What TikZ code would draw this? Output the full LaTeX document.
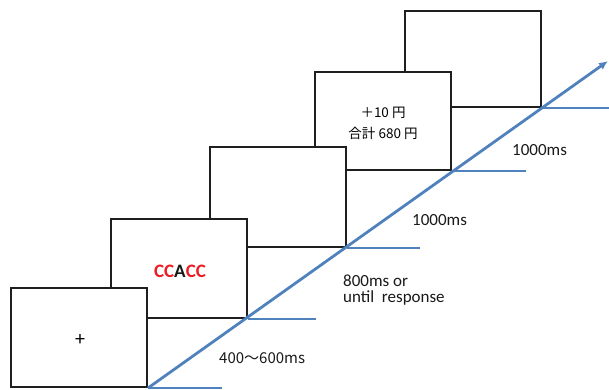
\documentclass[tikz,border=0pt]{standalone}
\usepackage{fontspec}
\setmainfont{Carlito}
\newfontfamily\jp{Noto Sans CJK JP}
\usetikzlibrary{arrows.meta}
\definecolor{tlblue}{RGB}{79,129,189}
\definecolor{ccred}{RGB}{235,28,36}
\begin{document}
\begin{tikzpicture}[x=1pt,y=-1pt,
  frame/.style={draw=black!88, line width=2.2pt, fill=white, minimum width=136pt, inner sep=0pt, anchor=south east},
  tl/.style={draw=tlblue, line width=2.8pt},
  lbl/.style={anchor=west, inner sep=0pt, font=\fontsize{17}{19}\selectfont, text=black!90}]
\useasboundingbox (0,0) rectangle (609,389);
% boxes, back to front
\node[frame, minimum height=96pt] (b5) at (542,108) {};
\node[frame, minimum height=98pt] (b4) at (452,171) {};
\node[frame, minimum height=100pt] (b3) at (347,248) {};
\node[frame, minimum height=99pt] (b2) at (248,319) {};
\node[frame, minimum height=99pt] (b1) at (148,388) {};
% box contents
\node[inner sep=0pt, font=\fontsize{20}{22}\selectfont] (plus) at (80,340) {+};
\node[inner sep=0pt, font=\fontsize{19}{21}\selectfont\bfseries] (cc) at (180,271) {\textcolor{ccred}{CC}\textcolor{black!90}{A}\textcolor{ccred}{CC}};
\node[inner sep=0pt, font=\jp\fontsize{13.5}{15}\selectfont] (t1) at (383,113) {＋10 円};
\node[inner sep=0pt, font=\jp\fontsize{13.5}{15}\selectfont] (t2) at (383,133) {合計 680 円};
% timeline
\coordinate (tip) at (608,61);
\coordinate (h1) at (222,388);
\coordinate (h2) at (316,319);
\coordinate (h3) at (420,248);
\coordinate (h4) at (526,171);
\coordinate (h5) at (609,108);
\draw[tl] (b1.south east) -- (h1);
\draw[tl] (b2.south east) -- (h2);
\draw[tl] (b3.south east) -- (h3);
\draw[tl] (b4.south east) -- (h4);
\draw[tl] (b5.south east) -- (h5);
\draw[tl, -{Latex[length=9pt,width=8pt]}] (b1.south east) -- (tip);
% labels
\node[lbl, font=\jp\fontsize{15}{17}\selectfont] (l1) at (219,358) {400〜600ms};
\node[lbl] (l2) at (343,281) {800ms or};
\node[lbl] (l3) at (343,298) {until\ \ response};
\node[lbl] (l4) at (412,220) {1000ms};
\node[lbl] (l5) at (512,150) {1000ms};
\end{tikzpicture}
\end{document}
